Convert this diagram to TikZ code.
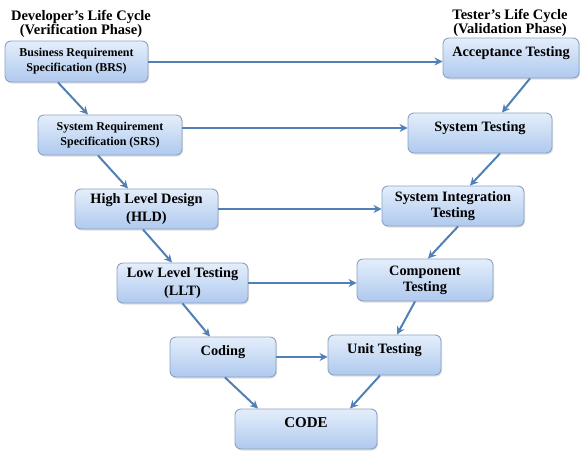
\documentclass[tikz,border=0pt]{standalone}
\usepackage{fontspec}
\setmainfont{Liberation Serif}
\usetikzlibrary{arrows.meta,shadows}
\definecolor{boxtop}{HTML}{E4EEFB}
\definecolor{boxbot}{HTML}{AFC9EE}
\definecolor{boxline}{HTML}{8AA2C4}
\definecolor{arrowc}{HTML}{5080B6}
\begin{document}
\begin{tikzpicture}[x=1pt,y=-1pt,
  box/.style={draw=boxline, line width=0.9pt, rounded corners=6pt,
    top color=boxtop, bottom color=boxbot, align=center, inner sep=1pt,
    font=\bfseries\fontsize{14.3}{16}\selectfont,
    drop shadow={shadow xshift=1pt, shadow yshift=-1.5pt, opacity=0.25}},
  small/.style={font=\bfseries\fontsize{12}{15}\selectfont},
  wide/.style={font=\bfseries\fontsize{14.3}{18}\selectfont},
  topbias/.style={text height=10pt, text depth=13.5pt},
  head/.style={align=center, font=\bfseries\fontsize{14.5}{14}\selectfont, inner sep=0pt},
  arr/.style={draw=arrowc, line width=2pt, -{Stealth[length=8pt,width=8pt]}}]
\useasboundingbox (0,0) rectangle (582,451);

% headings
\node[head] (dev) at (81,24) {Developer’s Life Cycle\\(Verification Phase)};
\node[head] (tst) at (510,23) {Tester’s Life Cycle\\(Validation Phase)};

% left branch
\node[box,small,minimum width=143pt,minimum height=41pt] (brs) at (76.5,61.5) {Business Requirement\\Specification (BRS)};
\node[box,small,minimum width=144pt,minimum height=40pt] (srs) at (110,135) {System Requirement\\Specification (SRS)};
\node[box,wide,minimum width=143pt,minimum height=40pt] (hld) at (146.5,209) {High Level Design\\(HLD)};
\node[box,wide,minimum width=131pt,minimum height=40pt] (llt) at (182.5,283) {Low Level Testing\\(LLT)};
\node[box,topbias,minimum width=106pt,minimum height=40pt] (cod) at (223,357) {Coding};

% right branch
\node[box,topbias,minimum width=136pt,minimum height=40pt] (acc) at (511,58) {Acceptance Testing};
\node[box,topbias,minimum width=144pt,minimum height=40pt] (syt) at (480,133) {System Testing};
\node[box,minimum width=142pt,minimum height=40pt] (sit) at (453,206) {System Integration\\Testing};
\node[box,minimum width=136pt,minimum height=42pt] (cmp) at (425,280) {Component\\Testing};
\node[box,topbias,minimum width=113pt,minimum height=40pt] (uni) at (384.5,355) {Unit Testing};

% bottom
\node[box,topbias,font=\bfseries\fontsize{15}{16}\selectfont,minimum width=142pt,minimum height=40pt] (code) at (306,429) {CODE};

% diagonal arrows, left
\draw[arr] ([xshift=-18.5pt]brs.south) -- ([xshift=-22pt]srs.north);
\draw[arr] ([xshift=-12pt]srs.south) -- ([xshift=-18.5pt]hld.north);
\draw[arr] ([xshift=-3.5pt]hld.south) -- ([xshift=-10.5pt]llt.north);
\draw[arr] (llt.south) -- ([xshift=-13pt]cod.north);
\draw[arr] ([xshift=2pt]cod.south) -- ([xshift=-48pt]code.north);

% diagonal arrows, right
\draw[arr] ([xshift=19pt]acc.south) -- ([xshift=22pt]syt.north);
\draw[arr] ([xshift=20pt]syt.south) -- ([xshift=17pt]sit.north);
\draw[arr] ([xshift=5pt]sit.south) -- ([xshift=3pt]cmp.north);
\draw[arr] ([xshift=-10pt]cmp.south) -- ([xshift=12.5pt]uni.north);
\draw[arr] ([xshift=-4.5pt]uni.south) -- ([xshift=44pt]code.north);

% horizontal arrows
\draw[arr] (brs.east) -- (brs.east -| acc.west);
\draw[arr] ([yshift=7pt]srs.east) -- ([yshift=7pt]srs.east -| syt.west);
\draw[arr] (hld.east) -- (hld.east -| sit.west);
\draw[arr] (llt.east) -- (llt.east -| cmp.west);
\draw[arr] (cod.east) -- (cod.east -| uni.west);
\end{tikzpicture}
\end{document}
